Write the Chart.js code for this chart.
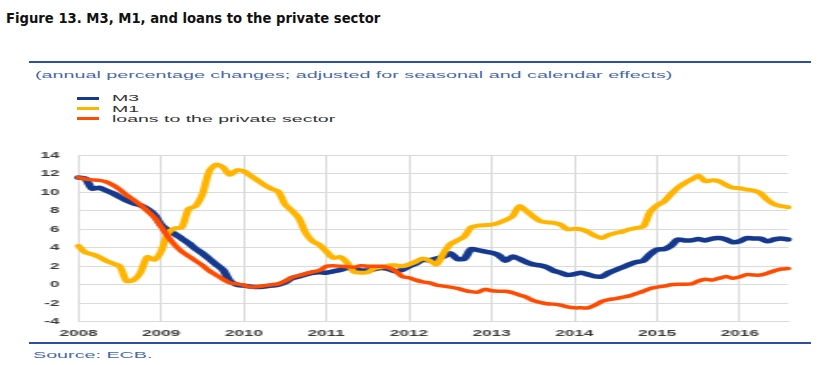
<!DOCTYPE html>
<html lang="en">
<head>
<meta charset="UTF-8">
<title>Figure 13. M3, M1, and loans to the private sector</title>
<script src="https://cdn.jsdelivr.net/npm/chart.js"></script>
<style>
  body { margin: 0; width: 833px; height: 365px; background: #fff; position: relative; overflow: hidden;
         font-family: "Liberation Sans", Arial, sans-serif; }
  .txt { position: absolute; white-space: nowrap; transform-origin: 0 50%; }
  #title { left: 6px; top: 9px; font: bold 14px "DejaVu Sans", sans-serif; color: #111; line-height: 18px; }
  .rule { position: absolute; left: 29px; width: 782px; height: 2px; background: #2d4f9e; }
  #subtitle, #source { font-size: 9.5px; line-height: 12px; color: #4a68ad; }
  .leg { font-size: 9px; line-height: 10px; color: #333; }
  .swatch { position: absolute; left: 77px; width: 22px; height: 3px; }
  #chart { position: absolute; left: 0; top: 140px; }
</style>
</head>
<body>
  <div id="title" class="txt">Figure 13. M3, M1, and loans to the private sector</div>
  <div class="rule" style="top: 61px"></div>
  <div id="subtitle" class="txt" style="left: 35px; top: 69px">(annual percentage changes; adjusted for seasonal and calendar effects)</div>

  <div class="swatch" style="top: 97px; background: #15398f"></div>
  <div class="swatch" style="top: 107px; background: #ffb400"></div>
  <div class="swatch" style="top: 117px; background: #ff4b00"></div>
  <div class="txt leg" style="left: 112px; top: 93px">M3</div>
  <div class="txt leg" style="left: 112px; top: 103.5px">M1</div>
  <div id="legLoans" class="txt leg" style="left: 112px; top: 114px">loans to the private sector</div>

  <!-- drawn at 438px wide and shown at 833px, like the stretched original -->
  <canvas id="chart" width="438" height="200" style="width: 833px; height: 200px"></canvas>

  <div class="rule" style="top: 342px"></div>
  <div id="source" class="txt" style="left: 33px; top: 349px">Source: ECB.</div>

<script>
  // monthly data, Jan 2008 - Aug 2016
  const years = ['2008', '2009', '2010', '2011', '2012', '2013', '2014', '2015', '2016'];
  const monthNames = ['Jan', 'Feb', 'Mar', 'Apr', 'May', 'Jun', 'Jul', 'Aug', 'Sep', 'Oct', 'Nov', 'Dec'];
  const months = [];
  years.forEach(y => monthNames.forEach(m => months.push(y + '-' + m)));
  months.length = 104;

  const m3 = [11.6, 11.5, 10.4, 10.5, 10.2, 9.9, 9.5, 9.1, 8.8, 8.6, 8.2, 7.6,
              6.5, 5.9, 5.5, 5.0, 4.5, 3.9, 3.4, 2.8, 2.2, 1.6, 0.4, 0.0,
              -0.1, -0.2, -0.25, -0.2, -0.1, 0.0, 0.25, 0.7, 0.9, 1.1, 1.3, 1.35,
              1.3, 1.45, 1.6, 1.8, 1.7, 1.55, 1.55, 1.7, 1.8, 1.7, 1.45, 1.6,
              2.0, 2.3, 2.7, 2.65, 2.85, 3.05, 3.4, 2.8, 2.8, 3.85, 3.75, 3.6,
              3.45, 3.2, 2.6, 3.05, 2.8, 2.45, 2.2, 2.1, 1.9, 1.5, 1.3, 1.05,
              1.15, 1.3, 1.1, 0.9, 0.9, 1.3, 1.6, 1.9, 2.2, 2.45, 2.6, 3.3,
              3.8, 3.85, 4.2, 4.9, 4.8, 4.8, 4.95, 4.8, 5.0, 5.05, 4.9, 4.6,
              4.7, 5.05, 5.0, 5.0, 4.7, 4.9, 5.0, 4.9];

  const m1 = [4.2, 3.5, 3.3, 3.0, 2.6, 2.3, 2.0, 0.4, 0.5, 1.3, 3.0, 2.7,
              3.6, 5.6, 6.1, 6.2, 8.2, 8.5, 9.8, 12.3, 13.0, 12.7, 11.9, 12.4,
              12.3, 11.8, 11.3, 10.8, 10.4, 10.1, 8.7, 8.0, 7.2, 5.6, 4.7, 4.3,
              3.6, 2.9, 3.0, 2.4, 1.4, 1.3, 1.35, 1.8, 1.9, 2.1, 2.1, 2.0,
              2.2, 2.5, 2.85, 2.6, 2.2, 3.4, 4.4, 4.8, 5.2, 6.2, 6.4, 6.45,
              6.5, 6.7, 7.0, 7.4, 8.5, 8.0, 7.4, 6.9, 6.75, 6.7, 6.5, 6.0,
              6.05, 6.0, 5.7, 5.3, 5.05, 5.4, 5.6, 5.75, 6.0, 6.15, 6.3, 7.9,
              8.6, 9.0, 9.8, 10.5, 11.0, 11.4, 11.8, 11.2, 11.3, 11.2, 10.8, 10.5,
              10.45, 10.3, 10.2, 9.9, 9.2, 8.7, 8.5, 8.4];

  const loans = [11.6, 11.45, 11.35, 11.3, 11.15, 10.8, 10.3, 9.7, 9.2, 8.65, 8.0, 7.3,
                 6.3, 5.2, 4.3, 3.6, 3.1, 2.6, 2.1, 1.5, 1.05, 0.6, 0.2, 0.1,
                 -0.05, -0.25, -0.2, -0.1, 0.0, 0.1, 0.4, 0.8, 1.0, 1.2, 1.4, 1.55,
                 2.0, 2.05, 2.0, 1.95, 1.9, 2.05, 2.0, 2.0, 2.0, 1.85, 1.5, 0.9,
                 0.75, 0.5, 0.3, 0.2, -0.05, -0.15, -0.25, -0.4, -0.6, -0.75, -0.8, -0.5,
                 -0.65, -0.7, -0.7, -0.85, -1.1, -1.35, -1.7, -1.9, -2.05, -2.1, -2.2, -2.4,
                 -2.5, -2.5, -2.5, -2.2, -1.8, -1.6, -1.5, -1.35, -1.2, -0.95, -0.7, -0.4,
                 -0.25, -0.15, 0.0, 0.05, 0.05, 0.1, 0.4, 0.6, 0.5, 0.7, 0.9, 0.7,
                 0.85, 1.1, 1.05, 1.05, 1.25, 1.5, 1.7, 1.75];

  // the source graphic is stretched sideways, so texts get squeezed/stretched to fit
  function stretch(el, w) {
    const k = w / el.offsetWidth;
    el.style.transform = 'scaleX(' + k + ')';
    return k;
  }
  stretch(document.getElementById('title'), 374);
  const k = stretch(document.getElementById('subtitle'), 637);
  document.getElementById('source').style.transform = 'scaleX(' + k + ')';
  const kl = stretch(document.getElementById('legLoans'), 223);
  document.querySelectorAll('.leg').forEach(el => el.style.transform = 'scaleX(' + kl + ')');

  const gridColor = '#dadada';
  const tickFont = { family: '"Liberation Sans", Arial, sans-serif', size: 9, weight: 'bold' };

  new Chart(document.getElementById('chart'), {
    type: 'line',
    data: {
      labels: months,
      datasets: [
        { label: 'M3', data: m3, borderColor: '#15398f', borderWidth: 4.5, order: 2 },
        { label: 'M1', data: m1, borderColor: '#ffb400', borderWidth: 4, order: 1 },
        { label: 'loans to the private sector', data: loans, borderColor: '#ff4b00', borderWidth: 3.5, order: 0 }
      ]
    },
    options: {
      responsive: false,
      devicePixelRatio: 1,
      animation: false,
      layout: { padding: { top: 15, right: 23.7, bottom: 0, left: 0 } },
      elements: {
        point: { radius: 0 },
        line: { tension: 0.25, borderCapStyle: 'round', borderJoinStyle: 'round' }
      },
      plugins: { legend: { display: false }, tooltip: { enabled: false } },
      scales: {
        x: {
          grid: { color: c => c.index % 12 === 0 ? gridColor : 'rgba(0,0,0,0)', drawTicks: false },
          border: { color: gridColor },
          ticks: {
            autoSkip: false, maxRotation: 0, padding: 6, font: tickFont, color: '#3c3c3c',
            callback: (v, i) => i % 12 === 0 ? months[i].slice(0, 4) : ''
          },
          afterFit: s => { s.height = 18.3; }
        },
        y: {
          min: -4, max: 14,
          grid: { color: gridColor, drawTicks: false },
          border: { display: false },
          ticks: { stepSize: 2, padding: 10, font: tickFont, color: '#3c3c3c' },
          afterFit: s => { s.width = 41.2; }
        }
      }
    }
  });
</script>
</body>
</html>
